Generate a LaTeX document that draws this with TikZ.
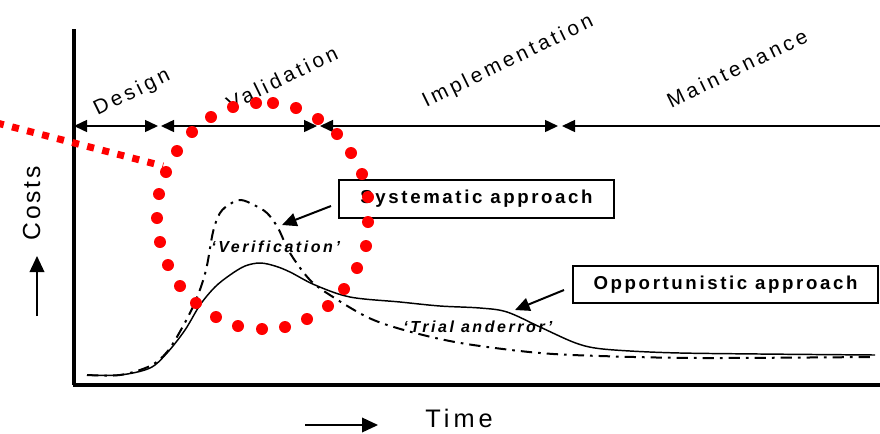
\documentclass[tikz,border=0pt]{standalone}
\usepackage{fontspec}
\setmainfont{Liberation Sans}
\usetikzlibrary{arrows.meta}

\begin{document}
\begin{tikzpicture}[x=0.75pt,y=-0.75pt,
  axis/.style={line width=2.8pt},
  phase/.style={line width=1.1pt},
  phasetip/.tip={Triangle[length=9.75pt,width=9pt]},
  phaselabel/.style={inner sep=0pt,rotate=26,
    font=\fontsize{15.5}{18}\selectfont\addfontfeature{LetterSpace=17}},
  boxlabel/.style={draw,line width=1.2pt,inner sep=0pt,
    font=\fontsize{14}{17}\selectfont\bfseries\addfontfeature{LetterSpace=14}},
  curvelabel/.style={inner sep=0pt,anchor=base west,
    font=\fontsize{12}{14}\selectfont\bfseries\itshape\addfontfeature{LetterSpace=16}},
  pointer/.style={line width=1.5pt,-{Triangle[length=11pt,width=10pt]}},
  axislabel/.style={inner sep=0pt,anchor=base west,
    font=\fontsize{19}{22}\selectfont\addfontfeature{LetterSpace=16}},
  dir/.style={line width=1.1pt,-{Triangle[length=12pt,width=11pt]}},
  systematic/.style={line width=1.5pt,dash pattern=on 8.5pt off 4.5pt on 2pt off 4.5pt},
  opportunistic/.style={line width=1.1pt},
  spot/.style={fill=red}
]
\useasboundingbox (0,0) rectangle (880,433);

% cost curves
\draw[opportunistic] plot[smooth,tension=0.55] coordinates {
  (87,375) (120,375) (150,368) (167,353) (185,330) (200,305) (215,287)
  (230,275) (245,266) (260,263) (275,266) (290,272) (315,285) (350,297)
  (400,302) (440,306) (480,308) (507,312) (540,327) (573,342) (595,348)
  (630,351) (680,353) (760,354) (875,355)};
\draw[systematic] plot[smooth,tension=0.55] coordinates {
  (87,375) (120,375) (150,366) (167,352) (182,328) (196,300) (206,270)
  (213,232) (220,213) (230,204) (241,200) (254,205) (267,213) (278,228)
  (290,253) (310,280) (333,297) (367,317) (397,328) (440,339) (480,346)
  (540,353) (600,356) (700,358) (870,357)};

% axes
\draw[axis] (74,29) coordinate (ytop) -- (74,385) coordinate (origin);
\draw[axis] (72.6,385) -- (880,385) coordinate (xend);

% life-cycle phases
\coordinate (p0) at (74,126);
\coordinate (p1) at (158,126);
\coordinate (p2) at (161,126);
\coordinate (p3) at (317,126);
\coordinate (p4) at (320,126);
\coordinate (p5) at (558,126);
\coordinate (p6) at (562,126);
\coordinate (p7) at (880,126);
\draw[phase,phasetip-phasetip] (p0) -- (p1);
\draw[phase,phasetip-phasetip] (p2) -- (p3);
\draw[phase,phasetip-phasetip] (p4) -- (p5);
\draw[phase,phasetip-] (p6) -- (p7);

\node[phaselabel] (design) at (132,93) {Design};
\node[phaselabel] (validation) at (282,78) {Validation};
\node[phaselabel] (implementation) at (508,62) {Implementation};
\node[phaselabel] (maintenance) at (737,68) {Maintenance};

% approach boxes and pointers
\node[boxlabel,minimum width=206.25pt,minimum height=28.5pt] (sys) at (476.5,199) {Systematic approach};
\node[boxlabel,minimum width=228.75pt,minimum height=27.75pt] (opp) at (725.5,284.5) {Opportunistic approach};
\coordinate (systip) at (282,225);
\coordinate (opptip) at (515,310);
\draw[pointer] (331,206) -- (systip);
\draw[pointer] (564,290) -- (opptip);

\node[curvelabel] (verif) at (211,252) {‘Verification’};
\node[curvelabel] (trial) at (403,332) {‘Trial anderror’};

% axis labels
\node[axislabel,rotate=90,font=\fontsize{18.5}{22}\selectfont\addfontfeature{LetterSpace=12}] (costs) at (40,241) {Costs};
\coordinate (cup0) at (37,316);
\coordinate (cup1) at (37,256);
\draw[dir] (cup0) -- (cup1);
\node[axislabel] (time) at (425,427) {Time};
\coordinate (tr0) at (305,425);
\coordinate (tr1) at (378,425);
\draw[dir] (tr0) -- (tr1);

% highlighted region
\coordinate (h0) at (-3,123);
\coordinate (h1) at (163,166);
\draw[red,line width=5.25pt,dash pattern=on 5.25pt off 6.4pt] (h0) -- (h1);
\foreach \x/\y in {211/117,233/107,256/103,273/103,296/108,318/119,337/134,
  351/153,362/174,368/197,368/222,366/246,357/268,344/289,328/306,307/319,
  285/327,262/329,238/326,216/317,196/303,180/286,168/265,160/242,157/218,
  159/194,166/172,177/151,192/132}
  \fill[spot] (\x,\y) circle[radius=4.5pt];
\end{tikzpicture}
\end{document}
